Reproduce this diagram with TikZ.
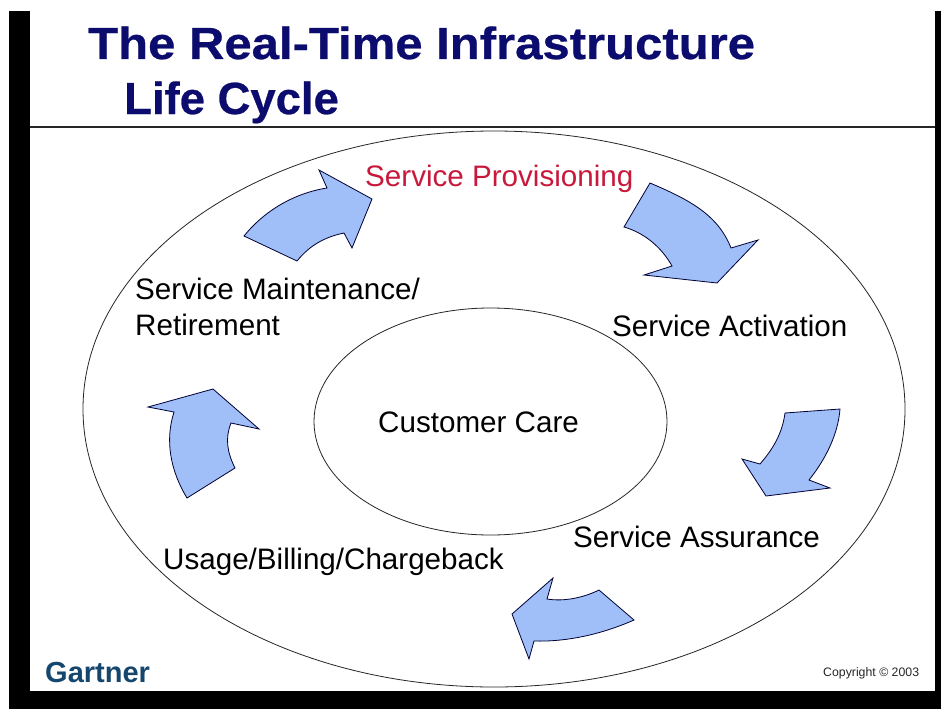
\documentclass[tikz,border=0pt]{standalone}
\usepackage{fontspec}
\setmainfont{Liberation Sans}
\newfontfamily\titlefont[FakeStretch=1.09,FakeBold=0.6]{Liberation Sans Bold}
\newfontfamily\subtitlefont[FakeStretch=1.01,FakeBold=0.6]{Liberation Sans Bold}
\begin{document}
\begin{tikzpicture}[x=1pt,y=-1pt,
  lbl/.style={inner sep=0pt,anchor=base west,font=\fontsize{29.6}{34}\selectfont,text=black},
  ttl/.style={inner sep=0pt,anchor=base west,text=titleblue},
  arw/.style={draw=black!80!blue,line width=0.8pt,fill=arrowblue,line join=miter},
  ring/.style={draw=black!85,line width=0.8pt}]
\definecolor{arrowblue}{RGB}{160,190,248}
\definecolor{titleblue}{RGB}{12,12,110}
\definecolor{provred}{RGB}{200,25,60}
\definecolor{gartblue}{RGB}{20,70,110}
\useasboundingbox (0,0) rectangle (941,709);
\fill[white] (0,0) rectangle (941,709);
\fill[black] (9,11) rectangle (30,709);
\fill[black] (9,691) rectangle (941,709);
\fill[black] (935,11) rectangle (941,709);
\coordinate (ruleL) at (30,127);
\coordinate (ruleR) at (935,127);
\draw[black!85,line width=1.5pt] (ruleL) -- (ruleR);
\node[ttl,font=\titlefont\fontsize{45}{50}\selectfont] (t1) at (88,59) {The Real-Time Infrastructure};
\node[ttl,font=\subtitlefont\fontsize{45}{50}\selectfont] (t2) at (124,114) {Life Cycle};
\draw[ring] (494,409) ellipse [x radius=411,y radius=278];
\draw[ring] (490.5,421.5) ellipse [x radius=176.5,y radius=113.5];
\draw[arw] (319,170) -- (327,188) .. controls (295,193) and (265,210) .. (244,236) -- (297,261) .. controls (310,245) and (325,237) .. (344,233) -- (352,248) -- (372,199) -- cycle;
\draw[arw] (650,183) .. controls (690,200) and (718,215) .. (731,248) -- (758,240) -- (717,283) -- (644,275) -- (672,266) .. controls (662,248) and (645,233) .. (624,227) -- cycle;
\draw[arw] (785,413) -- (840,409) .. controls (838,435) and (825,460) .. (809,480) -- (830,488) -- (766,496) -- (742,459) -- (760,464) .. controls (772,450) and (782,435) .. (785,413) -- cycle;
\draw[arw] (553,578) -- (547,599) .. controls (565,602) and (585,597) .. (599,590) -- (634,620) .. controls (600,635) and (565,642) .. (534,641) -- (529,659) -- (512,614) -- cycle;
\draw[arw] (213,389) -- (259,429) -- (231,423) .. controls (225,438) and (227,452) .. (235,468) -- (187,498) .. controls (170,470) and (165,440) .. (174,412) -- (148,407) -- cycle;
\node[lbl,text=provred] (prov) at (365,186) {Service Provisioning};
\node[lbl] (act) at (612,336) {Service Activation};
\node[lbl] (ass) at (573,547) {Service Assurance};
\node[lbl] (bill) at (163,569) {Usage/Billing/Chargeback};
\node[lbl] (ret1) at (135,299) {Service Maintenance/};
\node[lbl] (ret2) at (135,335) {Retirement};
\node[lbl] (care) at (378,432) {Customer Care};
\node[inner sep=0pt,anchor=base west,font=\bfseries\fontsize{29}{30}\selectfont,text=gartblue] (gart) at (45,682) {Gartner};
\node[inner sep=0pt,anchor=base west,font=\fontsize{12.3}{13}\selectfont,text=black!85] (copy) at (823,676) {Copyright © 2003};
\end{tikzpicture}
\end{document}
